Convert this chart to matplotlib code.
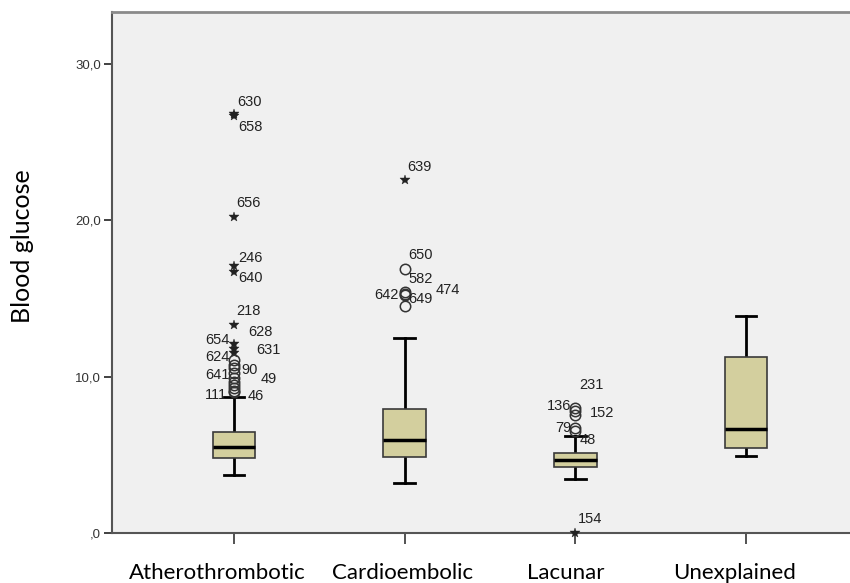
import matplotlib
matplotlib.use("Agg")
import matplotlib.pyplot as plt

# ---- data ----
categories = ["Atherothrombotic", "Cardioembolic", "Lacunar", "Unexplained"]
q1 = [4.8, 4.86, 4.2, 5.44]
medians = [5.5, 5.95, 4.7, 6.65]
q3 = [6.46, 7.93, 5.1, 11.26]
whisker_low = [3.7, 3.2, 3.45, 4.93]
whisker_high = [8.7, 12.5, 6.2, 13.9]

# outliers: (value, case label or "", kind) ; kind 'o' = outlier, '*' = extreme
athero_out_values = [26.8, 26.7, 20.2, 17.1, 16.7, 13.3, 12.1, 11.8, 11.5,
                     11.07, 10.75, 10.56, 10.24, 9.92, 9.66, 9.47, 9.28, 9.1, 9.05]
athero_out_labels = ["630", "658", "656", "246", "640", "218", "628", "654", "631",
                     "624", "", "90", "", "641", "49", "", "", "111", "46"]
athero_out_kinds = ["*"] * 9 + ["o"] * 10

cardio_out_values = [22.6, 16.9, 15.4, 15.3, 15.2, 14.5]
cardio_out_labels = ["639", "650", "582", "474", "642", "649"]
cardio_out_kinds = ["*", "o", "o", "o", "o", "o"]

lacunar_out_values = [8.0, 7.8, 7.55, 6.72, 6.5, 0.0]
lacunar_out_labels = ["231", "136", "152", "79", "48", "154"]
lacunar_out_kinds = ["o", "o", "o", "o", "o", "*"]

unexpl_out_values = []
unexpl_out_labels = []
unexpl_out_kinds = []

yticks = [0, 10, 20, 30]
ytick_labels = [",0", "10,0", "20,0", "30,0"]
ylabel = "Blood glucose"

# label offsets in pixels (dx, dy) and alignment -- styling only
athero_offsets = [(3, 12, "left"), (4, -11, "left"), (2, 14, "left"), (4, 8, "left"),
                  (4, -6, "left"), (2, 14, "left"), (14, 12, "left"), (-5, 9, "right"),
                  (22, 3, "left"), (-5, 3, "right"), (0, 0, "left"), (7, -2, "left"),
                  (0, 0, "left"), (-5, 3, "right"), (26, 3, "left"), (0, 0, "left"),
                  (0, 0, "left"), (-7, -4, "right"), (13, -4, "left")]
cardio_offsets = [(3, 13, "left"), (4, 14, "left"), (4, 13, "left"), (31, 4, "left"),
                  (-6, 0, "right"), (4, 7, "left")]
lacunar_offsets = [(4, 23, "left"), (-4, 5, "right"), (15, 2, "left"), (-4, 0, "right"),
                   (4, -9, "left"), (3, 14, "left")]
unexpl_offsets = []

# ---- figure ----
fig = plt.figure(figsize=(8.5, 5.83), dpi=100)
ax = fig.add_axes([112 / 850, 50 / 583, 1 - 112 / 850 + 0.01, (533 - 12) / 583])
ax.set_facecolor("#F0F0F0")

positions = list(range(1, len(categories) + 1))
stats = []
for i, c in enumerate(categories):
    stats.append(dict(label=c, q1=q1[i], med=medians[i], q3=q3[i],
                      whislo=whisker_low[i], whishi=whisker_high[i], fliers=[]))

ax.bxp(stats, positions=positions, widths=0.25, showfliers=False, patch_artist=True,
       boxprops=dict(facecolor="#D3CF9E", edgecolor="#3a3a3a", linewidth=1.2, zorder=2.5),
       medianprops=dict(color="black", linewidth=2.5, zorder=2.6),
       whiskerprops=dict(color="black", linewidth=2),
       capprops=dict(color="black", linewidth=2),
       capwidths=0.12)

groups = [
    (athero_out_values, athero_out_labels, athero_out_kinds, athero_offsets),
    (cardio_out_values, cardio_out_labels, cardio_out_kinds, cardio_offsets),
    (lacunar_out_values, lacunar_out_labels, lacunar_out_kinds, lacunar_offsets),
    (unexpl_out_values, unexpl_out_labels, unexpl_out_kinds, unexpl_offsets),
]
for pos, (vals, labs, kinds, offs) in zip(positions, groups):
    for v, lab, k, off in zip(vals, labs, kinds, offs):
        if k == "o":
            ax.plot(pos, v, marker="o", markersize=7.5, markerfacecolor="none",
                    markeredgecolor="#333333", markeredgewidth=1.1, clip_on=False, zorder=3)
        else:
            ax.plot(pos, v, marker="*", markersize=7.5, color="#222222",
                    markeredgewidth=0.3, clip_on=False, zorder=3)
        if lab:
            ax.annotate(lab, (pos, v), xytext=(off[0], off[1]), textcoords="offset pixels",
                        ha=off[2], va="center", fontsize=10.5, family="Liberation Sans",
                        color="#222222")

ax.set_xlim(0.284, 4.66)
ax.set_ylim(0, 33.33)
ax.set_xticks(positions)
ax.set_xticklabels([""] * len(positions))
ax.set_yticks(yticks)
ax.set_yticklabels(ytick_labels, fontsize=9.5, family="Liberation Sans", color="#333333")
ax.tick_params(axis="y", length=6, width=1.3, color="#333333", pad=2)
ax.tick_params(axis="x", length=8, width=1.3, color="#444444")

for side in ["left", "bottom"]:
    ax.spines[side].set_color("#555555")
    ax.spines[side].set_linewidth(1.5)
ax.spines["top"].set_color("#8a8a8a")
ax.spines["top"].set_linewidth(2)
ax.spines["right"].set_visible(False)

# category labels below the axis
label_centers = [217, 403, 566, 735]
for cx, c in zip(label_centers, categories):
    fig.text(cx / 850, 1 - 573 / 583, c, ha="center", va="center",
             fontsize=16, family="Lato", color="black")

fig.text(23 / 850, 1 - 246 / 583, ylabel, rotation=90, ha="center", va="center",
         fontsize=18, family="Lato", color="black")

fig.savefig("out.png", dpi=100, facecolor="white")
